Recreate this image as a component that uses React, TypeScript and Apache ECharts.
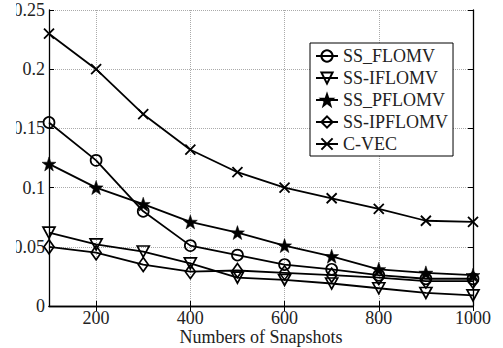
import React, { useEffect, useRef } from "react";
import * as echarts from "echarts";

const snapshots = [100, 200, 300, 400, 500, 600, 700, 800, 900, 1000];
const xTickValues = [200, 400, 600, 800, 1000];
const seriesNames = ["SS_FLOMV", "SS-IFLOMV", "SS_PFLOMV", "SS-IPFLOMV", "C-VEC"];
const ssFlomv = [0.155, 0.123, 0.08, 0.051, 0.043, 0.035, 0.031, 0.026, 0.023, 0.023];
const ssIflomv = [0.062, 0.052, 0.046, 0.036, 0.024, 0.022, 0.019, 0.015, 0.011, 0.009];
const ssPflomv = [0.12, 0.1, 0.086, 0.071, 0.062, 0.051, 0.042, 0.031, 0.028, 0.026];
const ssIpflomv = [0.05, 0.045, 0.035, 0.029, 0.03, 0.028, 0.026, 0.024, 0.021, 0.021];
const cVec = [0.23, 0.2, 0.162, 0.132, 0.113, 0.1, 0.091, 0.082, 0.072, 0.071];

const FONT = "Liberation Serif";

const STAR =
  "path://M10,0 L12.35,6.76 L19.51,6.91 L13.8,11.24 L15.88,18.09 L10,14 L4.12,18.09 L6.2,11.24 L0.49,6.91 L7.65,6.76 Z";
const TRI_DOWN = "path://M0,0 L12,0 L6,11 Z";
const DIAMOND = "path://M5,0 L10,7 L5,14 L0,7 Z";
const CROSS = "path://M0,0 L10,10 M10,0 L0,10";

export default function App() {
  const ref = useRef<HTMLDivElement>(null);
  useEffect(() => {
    if (!ref.current) return;
    const chart = echarts.init(ref.current, undefined, { renderer: "svg" });
    const hollow = { color: "rgba(0,0,0,0)", borderColor: "#000", borderWidth: 1.7 };
    const mk = (name: string, data: number[], symbol: string, size: any, itemStyle: any) => ({
      name,
      type: "line",
      data: snapshots.map((x, i) => [x, data[i]]),
      symbol,
      symbolSize: size,
      showSymbol: true,
      lineStyle: { color: "#000", width: 1.8 },
      itemStyle,
      emphasis: { disabled: true },
    });
    const axisLine = { show: true, lineStyle: { color: "#000", width: 1.3 } };
    const grid = { show: true, lineStyle: { color: "#aaa", type: "dotted", width: 1 } };
    const fmt = (v: number) => String(v);
    chart.setOption({
      animation: false,
      backgroundColor: "#fff",
      grid: { left: 33, right: 30, top: 10, bottom: 42, outerBoundsMode: "none", containLabel: false },
      legend: {
        orient: "vertical",
        left: 294,
        top: 43,
        padding: [4, 5, 3, 5],
        itemGap: 4,
        itemWidth: 22,
        itemHeight: 14,
        borderColor: "#000",
        borderWidth: 1,
        backgroundColor: "#fff",
        textStyle: { fontFamily: FONT, fontSize: 18, color: "#222" },
        data: seriesNames,
      },
      xAxis: [
        {
          type: "value",
          min: 100,
          max: 1000,
          name: "Numbers of Snapshots",
          nameLocation: "middle",
          nameGap: 22,
          nameMoveOverlap: false,
          nameTextStyle: { fontFamily: FONT, fontSize: 18, color: "#222", lineHeight: 18 },
          axisLine,
          axisTick: { show: true, inside: true, length: 5, customValues: xTickValues, lineStyle: { color: "#000" } },
          axisLabel: { customValues: xTickValues, formatter: fmt, fontFamily: FONT, fontSize: 18, lineHeight: 18, color: "#222", margin: 3 },
          splitLine: grid,
        },
        {
          type: "value",
          position: "top",
          min: 100,
          max: 1000,
          axisLine,
          axisTick: { show: true, inside: true, length: 5, customValues: xTickValues, lineStyle: { color: "#000" } },
          axisLabel: { show: false },
          splitLine: { show: false },
        },
      ],
      yAxis: [
        {
          type: "value",
          min: 0,
          max: 0.25,
          interval: 0.05,
          axisLine,
          axisTick: { show: true, inside: true, length: 5, lineStyle: { color: "#000" } },
          axisLabel: { formatter: fmt, fontFamily: FONT, fontSize: 18, color: "#222", margin: 4 },
          splitLine: grid,
        },
        {
          type: "value",
          position: "right",
          min: 0,
          max: 0.25,
          interval: 0.05,
          axisLine,
          axisTick: { show: true, inside: true, length: 5, lineStyle: { color: "#000" } },
          axisLabel: { show: false },
          splitLine: { show: false },
        },
      ],
      series: [
        mk(seriesNames[0], ssFlomv, "circle", 11, hollow),
        mk(seriesNames[1], ssIflomv, TRI_DOWN, [12, 11], hollow),
        mk(seriesNames[2], ssPflomv, STAR, 14, { color: "#000", borderColor: "#000", borderWidth: 0.5 }),
        mk(seriesNames[3], ssIpflomv, DIAMOND, [10, 14], hollow),
        mk(seriesNames[4], cVec, CROSS, 10, { color: "rgba(0,0,0,0)", borderColor: "#000", borderWidth: 1.8 }),
      ],
    });
    return () => chart.dispose();
  }, []);
  return (
    <div
      ref={ref}
      style={{ position: "absolute", left: 16, top: 0, width: 487, height: 348 }}
    />
  );
}
